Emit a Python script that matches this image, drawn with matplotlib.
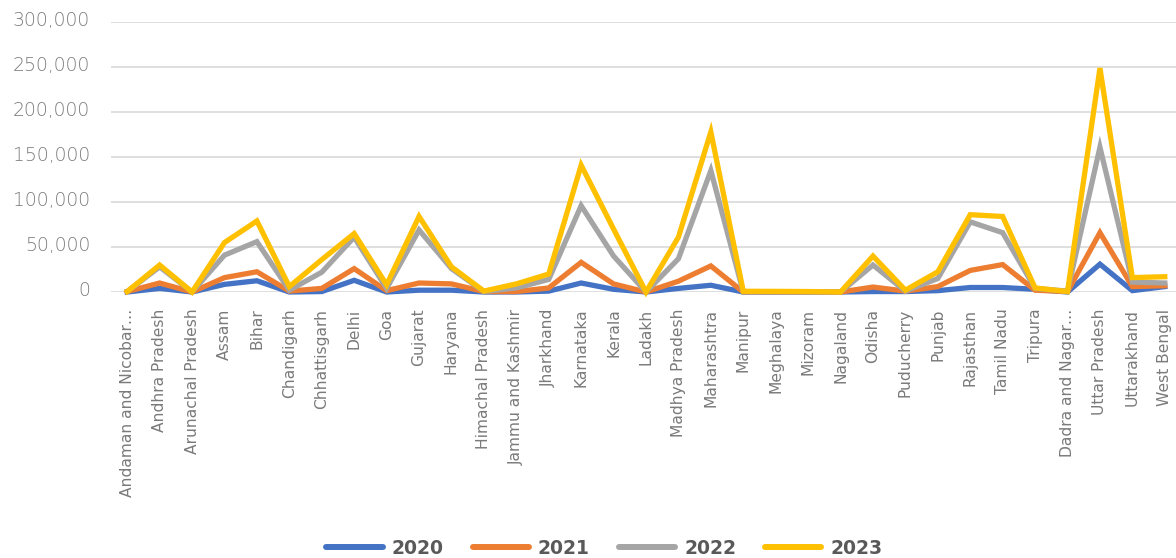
import matplotlib
matplotlib.use("Agg")
import matplotlib.pyplot as plt
from matplotlib.ticker import FuncFormatter, MultipleLocator
from matplotlib.transforms import ScaledTranslation

categories = ["Andaman and Nicobar…", "Andhra Pradesh", "Arunachal Pradesh", "Assam", "Bihar",
              "Chandigarh", "Chhattisgarh", "Delhi", "Goa", "Gujarat", "Haryana",
              "Himachal Pradesh", "Jammu and Kashmir", "Jharkhand", "Karnataka", "Kerala",
              "Ladakh", "Madhya Pradesh", "Maharashtra", "Manipur", "Meghalaya", "Mizoram",
              "Nagaland", "Odisha", "Puducherry", "Punjab", "Rajasthan", "Tamil Nadu",
              "Tripura", "Dadra and Nagar…", "Uttar Pradesh", "Uttarakhand", "West Bengal"]

v2020 = [0, 4000, 0, 8500, 12500, 0, 500, 13000, 0, 2000, 2000, 0, 0, 1000, 10000, 3000,
         0, 4000, 7500, 0, 0, 0, 0, 500, 500, 1500, 5000, 5000, 3000, 0, 31000, 1500, 6000]
v2021 = [500, 10000, 0, 16000, 22500, 1000, 4000, 26000, 1500, 10000, 9000, 500, 500, 4500,
         33000, 9000, 0, 12000, 29000, 0, 0, 0, 0, 5500, 1000, 6000, 24000, 30500, 2000, 500,
         66000, 6000, 7000]
v2022 = [500, 28000, 0, 41000, 56000, 2000, 22000, 61000, 4000, 69000, 26000, 500, 4500,
         14000, 96000, 40000, 0, 37000, 135000, 0, 0, 0, 0, 30000, 1000, 15000, 78000, 66000,
         4000, 1000, 161000, 11000, 10000]
v2023 = [500, 30000, 0, 55000, 79000, 6000, 36000, 65000, 8000, 84000, 28000, 1000, 9000,
         20000, 141000, 70000, 0, 61000, 178000, 800, 700, 500, 0, 40000, 2000, 22500, 86000,
         84000, 4500, 500, 249000, 16000, 17000]

series = [("2020", v2020, "#4472C4"), ("2021", v2021, "#ED7D31"),
          ("2022", v2022, "#A5A5A5"), ("2023", v2023, "#FFC000")]

plt.rcParams['font.family'] = ['DejaVu Sans']

fig = plt.figure(figsize=(11.76, 5.58), dpi=100)
left = 111 / 1176
right = 1181 / 1176
bottom = (558 - 292) / 558
top = (558 - 22.3) / 558
ax = fig.add_axes([left, bottom, right - left, top - bottom])

x = list(range(len(categories)))
for name, vals, col in series:
    ax.plot(x, vals, color=col, lw=3.8, label=name, clip_on=False, solid_joinstyle='miter')

ax.set_xlim(-0.5, len(categories) - 0.5)
ax.set_ylim(0, 300000)
ax.yaxis.set_major_locator(MultipleLocator(50000))
ax.yaxis.set_major_formatter(FuncFormatter(lambda v, p: f"{int(v):,}"))
ax.grid(axis='y', color='#D9D9D9', lw=1.2)
ax.set_axisbelow(True)
for s in ax.spines.values():
    s.set_visible(False)
ax.tick_params(axis='both', length=0, labelcolor='#7A7A7A')
ax.tick_params(axis='y', pad=15, labelsize=13.5)
ax.tick_params(axis='x', pad=12, labelsize=11.2)
ax.set_xticks(x)
ax.set_xticklabels(categories, rotation=90, va='top', ha='center',
                   family=['Liberation Sans Narrow', 'DejaVu Sans'])
for lbl in ax.get_yticklabels():
    lbl.set_fontweight('light')
    lbl.set_transform(lbl.get_transform() + ScaledTranslation(0, 4 / 100, fig.dpi_scale_trans))

leg = fig.legend(loc='center', bbox_to_anchor=(604.5 / 1176, (558 - 548) / 558), ncol=4,
                 frameon=False, prop={'weight': 'bold', 'size': 13.5, 'family': 'DejaVu Sans'},
                 handlelength=3.0, columnspacing=1.55, handletextpad=0.48, borderpad=0)
for t in leg.get_texts():
    t.set_color('#595959')
for h in leg.legend_handles:
    h.set_linewidth(4.3)
    h.set_solid_capstyle('round')

fig.savefig("out.png", dpi=100)
